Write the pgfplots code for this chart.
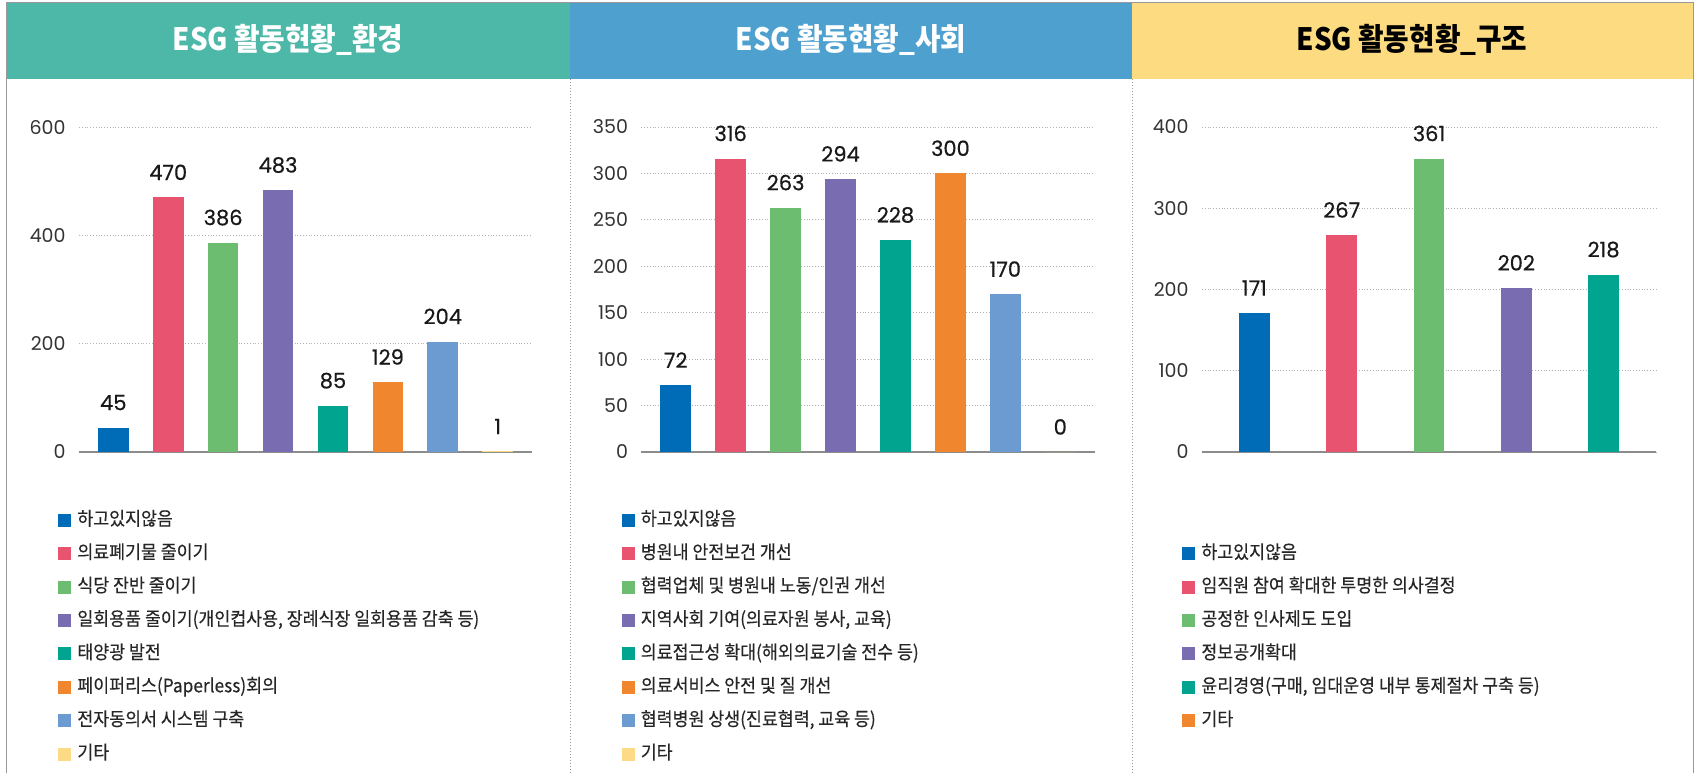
\documentclass[border=0pt]{standalone}
\usepackage{fontspec}
\usepackage{pgfplots}
\pgfplotsset{compat=1.18}
\setmainfont{Noto Sans CJK KR}
\newfontfamily\kr[FakeStretch=0.9]{Noto Sans CJK KR}
\newfontfamily\krl[FakeStretch=0.93, FakeBold=0.25]{Noto Sans CJK KR}
\newfontfamily\pop{Poppins}
\newfontfamily\popb[FakeBold=0.5]{Poppins}
\definecolor{cA}{HTML}{006BB6}
\definecolor{cB}{HTML}{E8546F}
\definecolor{cC}{HTML}{6CBD6F}
\definecolor{cD}{HTML}{7A6CB0}
\definecolor{cE}{HTML}{00A48F}
\definecolor{cF}{HTML}{F0862E}
\definecolor{cG}{HTML}{6C9BD2}
\definecolor{cH}{HTML}{FDDA85}
\definecolor{hA}{HTML}{4DB8A8}
\definecolor{hB}{HTML}{4EA0CF}
\definecolor{hC}{HTML}{FDDB80}
\pgfplotsset{
  panel/.style={
    scale only axis, height=162.5pt,
    ybar, bar width=15.3pt,
    ymin=0,
    axis lines*=left, axis line style={-},
    y axis line style={draw=none},
    x axis line style={draw=black!45, line width=0.8pt},
    xtick=\empty, major tick length=0pt,
    ymajorgrids, grid style={densely dotted, black!30, line width=0.5pt},
    yticklabel style={font=\pop\fontsize{9.5}{10}\selectfont, text=black!80, inner sep=0pt, xshift=-6.5pt},
    /pgf/number format/assume math mode=true,
    nodes near coords,
    nodes near coords style={font=\popb\fontsize{10.5}{12}\selectfont, text=black!90, anchor=south, inner sep=0pt, yshift=8.5pt},
    legend image code/.code={\fill[##1] (0pt,-3.25pt) rectangle (6.5pt,3.25pt);},
    legend cell align=left,
    legend style={draw=none, fill=none, inner sep=0pt, row sep=7.7pt, column sep=3pt, anchor=north west,
      nodes={font=\krl\fontsize{9.3}{10}\selectfont, text=black!85, inner sep=0pt, text height=7pt, text depth=2pt}},
  },
  b/.style={fill=#1, draw=none, bar shift=0pt},
}
\begin{document}
\begin{tikzpicture}
\useasboundingbox (0pt,0pt) rectangle (849.5pt,386.5pt);
\fill[white] (0pt,0pt) rectangle (849.5pt,386.5pt);
% headers
\fill[hA] (3.25pt,347pt) rectangle (285pt,385pt);
\fill[hB] (285pt,347pt) rectangle (566pt,385pt);
\fill[hC] (566pt,347pt) rectangle (846.5pt,385pt);
\draw[black!40, line width=0.5pt] (3.25pt,0pt) -- (3.25pt,385.3pt) -- (846.5pt,385.3pt) -- (846.5pt,0pt);
\draw[black!40, densely dotted, line width=0.5pt] (285pt,0pt) -- (285pt,347pt);
\draw[black!40, densely dotted, line width=0.5pt] (566pt,0pt) -- (566pt,347pt);
\node[font=\kr\bfseries\fontsize{15.4}{16}\selectfont, text=white] at (144pt,366.3pt) {ESG 활동현황\_환경};
\node[font=\kr\bfseries\fontsize{15.4}{16}\selectfont, text=white] at (425.5pt,366.3pt) {ESG 활동현황\_사회};
\node[font=\kr\bfseries\fontsize{15.4}{16}\selectfont, text=black] at (706pt,366.3pt) {ESG 활동현황\_구조};

% panel 1
\begin{axis}[panel, width=226.5pt, at={(39.5pt,160.5pt)}, anchor=south west,
  xmin=-0.625, xmax=7.625, ymax=600, ytick={0,200,400,600},
  legend style={at={(axis description cs:-0.0464,-0.1812)}}]
\addplot[b=cA] coordinates {(0,45)}; \addlegendentry{하고있지않음}
\addplot[b=cB] coordinates {(1,470)}; \addlegendentry{의료폐기물 줄이기}
\addplot[b=cC] coordinates {(2,386)}; \addlegendentry{식당 잔반 줄이기}
\addplot[b=cD] coordinates {(3,483)}; \addlegendentry{일회용품 줄이기(개인컵사용, 장례식장 일회용품 감축 등)}
\addplot[b=cE] coordinates {(4,85)}; \addlegendentry{태양광 발전}
\addplot[b=cF] coordinates {(5,129)}; \addlegendentry{페이퍼리스(Paperless)회의}
\addplot[b=cG] coordinates {(6,204)}; \addlegendentry{전자동의서 시스템 구축}
\addplot[b=cH] coordinates {(7,1)}; \addlegendentry{기타}
\end{axis}

% panel 2
\begin{axis}[panel, width=226.6pt, at={(320.7pt,160.5pt)}, anchor=south west,
  xmin=-0.625, xmax=7.625, ymax=350, ytick={0,50,100,150,200,250,300,350},
  legend style={at={(axis description cs:-0.0441,-0.1812)}}]
\addplot[b=cA] coordinates {(0,72)}; \addlegendentry{하고있지않음}
\addplot[b=cB] coordinates {(1,316)}; \addlegendentry{병원내 안전보건 개선}
\addplot[b=cC] coordinates {(2,263)}; \addlegendentry{협력업체 및 병원내 노동/인권 개선}
\addplot[b=cD] coordinates {(3,294)}; \addlegendentry{지역사회 기여(의료자원 봉사, 교육)}
\addplot[b=cE] coordinates {(4,228)}; \addlegendentry{의료접근성 확대(해외의료기술 전수 등)}
\addplot[b=cF] coordinates {(5,300)}; \addlegendentry{의료서비스 안전 및 질 개선}
\addplot[b=cG] coordinates {(6,170)}; \addlegendentry{협력병원 상생(진료협력, 교육 등)}
\addplot[b=cH] coordinates {(7,0)}; \addlegendentry{기타}
\end{axis}

% panel 3
\begin{axis}[panel, width=227pt, at={(601pt,160.5pt)}, anchor=south west,
  xmin=-0.6, xmax=4.6, ymax=400, ytick={0,100,200,300,400},
  legend style={at={(axis description cs:-0.044,-0.284)}}]
\addplot[b=cA] coordinates {(0,171)}; \addlegendentry{하고있지않음}
\addplot[b=cB] coordinates {(1,267)}; \addlegendentry{임직원 참여 확대한 투명한 의사결정}
\addplot[b=cC] coordinates {(2,361)}; \addlegendentry{공정한 인사제도 도입}
\addplot[b=cD] coordinates {(3,202)}; \addlegendentry{정보공개확대}
\addplot[b=cE] coordinates {(4,218)}; \addlegendentry{윤리경영(구매, 임대운영 내부 통제절차 구축 등)}
\addlegendimage{fill=cF, draw=none}
\addlegendentry{기타}
\end{axis}
\end{tikzpicture}
\end{document}
